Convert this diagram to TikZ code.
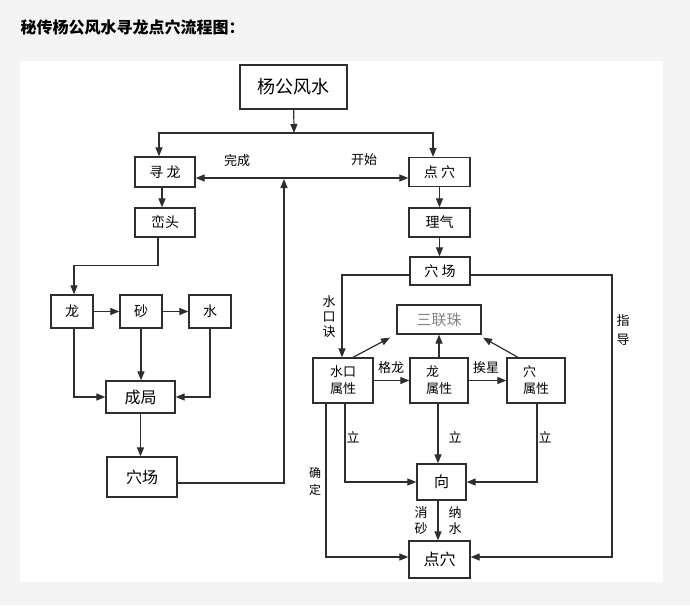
\documentclass[tikz,border=0pt]{standalone}
\usepackage{fontspec}
\setmainfont{Noto Sans CJK SC}
\usetikzlibrary{arrows.meta}
\definecolor{pagegray}{HTML}{F4F4F4}
\definecolor{linegray}{HTML}{2E2E2E}
\definecolor{textgray}{HTML}{858585}

\begin{document}
\begin{tikzpicture}
	[x=1pt,y=-1pt,>={Triangle[length=9pt,width=7pt]},
		box/.style={draw=linegray,line width=1.3pt,inner sep=2pt,font=\fontsize{14}{16}\selectfont},
		pair box/.style={box,align=left,font=\fontsize{13}{17}\selectfont},
		tag/.style={inner sep=1pt,align=center,font=\fontsize{13}{15}\selectfont},
		link/.style={draw=linegray,line width=1.2pt}]

	\fill[pagegray] (0,0) rectangle (690,605);
	\fill[white] (20,61) rectangle (663,582);
	\useasboundingbox (0,0) rectangle (690,605);

	\node[anchor=west,font=\bfseries\fontsize{16}{18}\selectfont] (title) at (17,27) {秘传杨公风水寻龙点穴流程图：};

	% top and the two branches
	\node[box,minimum width=107pt,minimum height=44pt,font=\fontsize{18}{20}\selectfont] (yang) at (293.5,87) {杨公风水};
	\node[box,minimum width=60pt,minimum height=30pt] (xunlong)  at (165,172)   {寻 龙};
	\node[box,minimum width=61pt,minimum height=29pt] (dianxue)  at (439.5,172) {点 穴};
	\node[box,minimum width=60pt,minimum height=29pt] (luantou)  at (165,222.5) {峦头};
	\node[box,minimum width=61pt,minimum height=29pt] (liqi)     at (439.5,222.5) {理气};

	% left branch
	\node[box,minimum width=42pt,minimum height=33pt] (long)     at (72,311.5)  {龙};
	\node[box,minimum width=42pt,minimum height=33pt] (sha)      at (141,311.5) {砂};
	\node[box,minimum width=42pt,minimum height=33pt] (shui)     at (210,311.5) {水};
	\node[box,minimum width=69pt,minimum height=32pt,font=\fontsize{16}{18}\selectfont] (chengju)  at (140.5,397) {成局};
	\node[box,minimum width=70pt,minimum height=40pt,font=\fontsize{16}{18}\selectfont] (xuechang) at (142,477)   {穴场};

	% right branch
	\node[box,minimum width=60pt,minimum height=28pt] (xuechangR) at (440,271) {穴 场};
	\node[box,minimum width=84pt,minimum height=29pt,text=textgray,font=\fontsize{15}{17}\selectfont] (sanlian) at (439,319.5) {三联珠};
	\node[pair box,minimum width=60pt,minimum height=45pt] (shuikou) at (343,380.5) {水口\\属性};
	\node[pair box,minimum width=58pt,minimum height=45pt] (longsx)  at (439,380.5) {龙\\属性};
	\node[pair box,minimum width=58pt,minimum height=45pt] (xuesx)   at (536,380.5) {穴\\属性};
	\node[box,minimum width=49pt,minimum height=36pt,font=\fontsize{15}{17}\selectfont] (xiang) at (441.5,482) {向};
	\node[box,minimum width=61pt,minimum height=37pt,font=\fontsize{16}{18}\selectfont] (dianxueB) at (439.5,559.5) {点穴};

	\coordinate (split) at (294,133);
	\coordinate (meet) at (284,179);
	\coordinate (guideturn) at (612,557);

	% labels
	\node[tag] (wancheng)   at (237,161) {完成};
	\node[tag] (kaishi)     at (364,160) {开始};
	\node[tag] (shuikoujue) at (329,317) {水\\口\\诀};
	\node[tag] (gelong)     at (391,368) {格龙};
	\node[tag] (aixing)     at (486,368) {挨星};
	\node[tag] (li1)        at (353,437) {立};
	\node[tag] (li2)        at (455,437) {立};
	\node[tag] (li3)        at (545,437) {立};
	\node[tag,font=\fontsize{12}{17}\selectfont] (queding) at (315,481) {确\\定};
	\node[tag,font=\fontsize{13}{16}\selectfont] (xiaosha) at (421,521) {消\\砂};
	\node[tag,font=\fontsize{13}{16}\selectfont] (nashui)  at (455,521) {纳\\水};
	\node[tag,font=\fontsize{13}{19}\selectfont] (zhidao)  at (623,330) {指\\导};

	% connectors
	\draw[link,->] (yang) -- (split);
	\draw[link,->] (split) -| ([xshift=-6pt]xunlong.north);
	\draw[link,->] (split) -| ([xshift=-6.5pt]dianxue.north);
	\draw[link,<->] ([yshift=-6pt]xunlong.east) -- ([yshift=-6pt]dianxue.west);
	\draw[link,->] ([yshift=-6pt]xuechang.east) -| (meet);
	\draw[link,->] ([xshift=-3pt]xunlong.south) -- ([xshift=-3pt]luantou.north);
	\draw[link,->] (dianxue) -- (liqi);

	\draw[link,->] ([xshift=-7pt]luantou.south) -- ++(0,28) -| ([xshift=2pt]long.north);
	\draw[link,->] (long) -- (sha);
	\draw[link,->] (sha) -- (shui);
	\draw[link,->] ([xshift=2pt]long.south) |- (chengju.west);
	\draw[link,->] (sha.south) -- (sha.south |- chengju.north);
	\draw[link,->] (shui.south) |- (chengju.east);
	\draw[link,->] (chengju.south) -- (chengju.south |- xuechang.north);

	\draw[link,->] (liqi.south) -- (liqi.south |- xuechangR.north);
	\draw[link,->] ([yshift=-4pt]xuechangR.west) -| ([xshift=-1pt]shuikou.north);
	\draw[link,->] ([yshift=-4pt]xuechangR.east) -| (guideturn) -- (guideturn -| dianxueB.east);
	\draw[link,->] ([xshift=10pt]shuikou.north) -- ([xshift=-49pt,yshift=-3pt]sanlian.south);
	\draw[link,->] (longsx.north) -- (longsx.north |- sanlian.south);
	\draw[link,->] ([xshift=-18pt]xuesx.north) -- ([xshift=44pt,yshift=-3pt]sanlian.south);
	\draw[link,->] (shuikou) -- (longsx);
	\draw[link,->] (longsx) -- (xuesx);
	\draw[link,->] ([xshift=2pt]shuikou.south) |- (xiang.west);
	\draw[link,->] ([xshift=-17pt]shuikou.south) |- ([yshift=2.5pt]dianxueB.west);
	\draw[link,->] ([xshift=-1pt]longsx.south) -- ([xshift=-1pt]longsx.south |- xiang.north);
	\draw[link,->] ([xshift=1pt]xuesx.south) |- (xiang.east);
	\draw[link,->] ([xshift=-3.5pt]xiang.south) -- ([xshift=-3.5pt]xiang.south |- dianxueB.north);

\end{tikzpicture}
\end{document}
